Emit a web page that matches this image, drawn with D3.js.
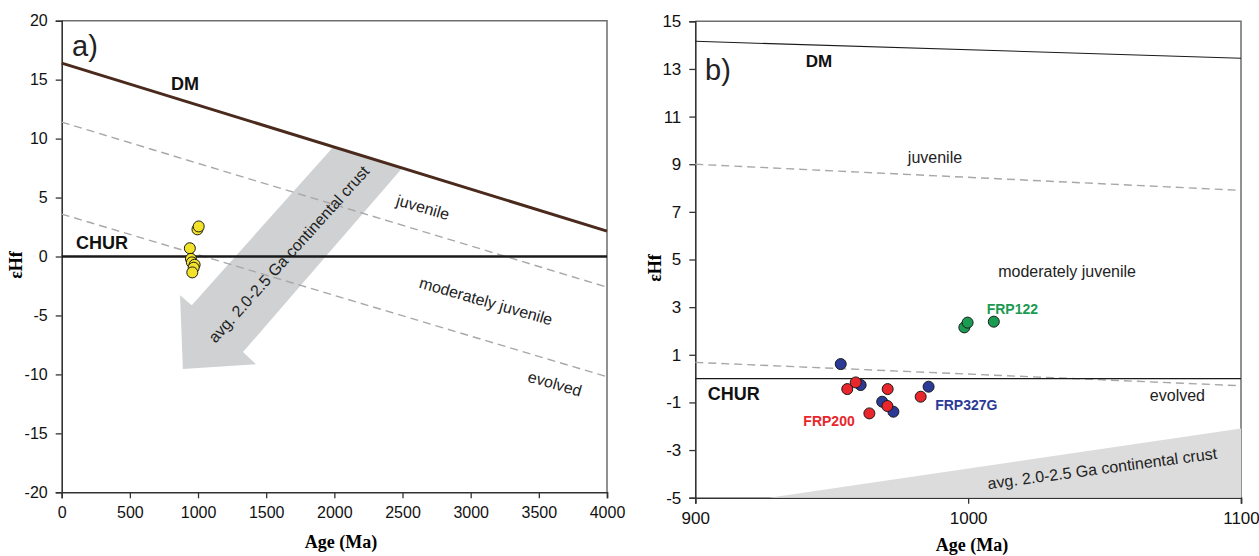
<!DOCTYPE html>
<html>
<head>
<meta charset="utf-8">
<script src="https://cdn.jsdelivr.net/npm/d3@7"></script>
<style>
  body { margin: 0; background: #fff; }
  text { font-family: Arial, "Liberation Sans", sans-serif; }
  .serif { font-family: "Times New Roman", "Liberation Serif", serif; font-weight: bold; }
</style>
</head>
<body>
<div id="chart"></div>
<script>
// ---- panel a data ----
var ageTicksA = [0, 500, 1000, 1500, 2000, 2500, 3000, 3500, 4000];
var hfTicksA = [-20, -15, -10, -5, 0, 5, 10, 15, 20];
var dmA = [[0, 16.4], [4000, 2.15]];
var churA = [[0, 0], [4000, 0]];
var juvenileA = [[0, 11.4], [4000, -2.6]];
var evolvedA = [[0, 3.6], [4000, -10.2]];
var crustArrowA = [[1990, 9.26], [2503, 7.57], [1330, -8.11], [1425, -9.13],
                   [889, -9.55], [868, -3.28], [954, -4.13]];
var samplesA = [[996, 2.3], [1005, 2.55], [940, 0.7], [948, -0.2], [955, -0.5],
                [975, -0.7], [968, -0.95], [958, -1.35]];

// ---- panel b data ----
var ageTicksB = [900, 1000, 1100];
var hfTicksB = [-5, -3, -1, 1, 3, 5, 7, 9, 11, 13, 15];
var dmB = [[900, 14.16], [1100, 13.45]];
var churB = [[900, 0], [1100, 0]];
var juvenileB = [[900, 9.0], [1100, 7.9]];
var evolvedB = [[900, 0.68], [1100, -0.3]];
var crustB = [[927, -5], [1100, -2.1], [1100, -5]];
var frp327g = [[953.3, 0.61], [960.6, -0.27], [968.5, -0.97], [972.6, -1.39], [985.5, -0.34]];
var frp200 = [[955.7, -0.44], [958.8, -0.16], [970.5, -0.44], [970.4, -1.15], [963.8, -1.46], [982.6, -0.76]];
var frp122 = [[998.6, 2.15], [999.8, 2.35], [1009.4, 2.39]];

var svg = d3.select("#chart").append("svg")
    .attr("width", 1259)
    .attr("height", 556);

function panel(left, top, right, bottom, xdom, ydom, xticks, yticks, fs) {
  var x = d3.scaleLinear().domain(xdom).range([left, right]);
  var y = d3.scaleLinear().domain(ydom).range([bottom, top]);
  var g = svg.append("g");

  // frame top / right
  g.append("path")
    .attr("d", "M" + left + "," + top + "H" + right + "V" + bottom)
    .attr("fill", "none").attr("stroke", "#6e6e6e").attr("stroke-width", 1.5);

  var ax = g.append("g")
    .attr("transform", "translate(0," + bottom + ")")
    .call(d3.axisBottom(x).tickValues(xticks).tickSize(6).tickPadding(8)
          .tickFormat(function(d) { return String(d); }));
  var ay = g.append("g")
    .attr("transform", "translate(" + left + ",0)")
    .call(d3.axisLeft(y).tickValues(yticks).tickSize(6).tickPadding(8)
          .tickFormat(function(d) { return String(d); }));
  [ax, ay].forEach(function(a) {
    a.selectAll("text").style("font-size", fs + "px").attr("fill", "#111")
      .style("font-family", "Arial, 'Liberation Sans', sans-serif");
    a.selectAll("line").attr("stroke", "#333").attr("stroke-width", 1.3);
    a.select(".domain").attr("stroke", "#333").attr("stroke-width", 1.6);
  });
  return {g: g, x: x, y: y};
}

function line(p, data, color, width, dash) {
  var gen = d3.line().x(function(d) { return p.x(d[0]); }).y(function(d) { return p.y(d[1]); });
  p.g.append("path").datum(data)
    .attr("d", gen)
    .attr("fill", "none")
    .attr("stroke", color)
    .attr("stroke-width", width)
    .attr("stroke-dasharray", dash || null);
}

function label(p, age, hf, txt, opts) {
  var t = p.g.append("text")
    .attr("transform", "translate(" + p.x(age) + "," + p.y(hf) + ") rotate(" + (opts.rot || 0) + ")")
    .attr("text-anchor", opts.anchor || "start")
    .style("font-size", opts.size + "px")
    .style("font-weight", opts.bold ? "bold" : "normal")
    .attr("fill", opts.color || "#222")
    .text(txt);
  if (opts.dy) t.attr("dy", opts.dy);
  return t;
}

function dots(p, data, fill) {
  p.g.selectAll(null).data(data).enter().append("circle")
    .attr("cx", function(d) { return p.x(d[0]); })
    .attr("cy", function(d) { return p.y(d[1]); })
    .attr("r", 5.5)
    .attr("fill", fill)
    .attr("stroke", "#1a1a1a")
    .attr("stroke-width", 1);
}

// ================= panel a =================
var a = panel(61.7, 20.7, 607, 492.3, [0, 4000], [-20, 20], ageTicksA, hfTicksA, 16);

a.g.append("path").datum(crustArrowA)
  .attr("d", d3.line().x(function(d) { return a.x(d[0]); }).y(function(d) { return a.y(d[1]); }).curve(d3.curveLinearClosed))
  .attr("fill", "#cfd1d3");

line(a, juvenileA, "#a8a8a8", 1.4, "8,5");
line(a, evolvedA, "#a8a8a8", 1.4, "8,5");
line(a, churA, "#1a1a1a", 2.6);
line(a, dmA, "#4a2a1c", 3);
dots(a, samplesA, "#f2e229");

label(a, 76, 17, "a)", {size: 29, color: "#222"});
label(a, 802, 14.1, "DM", {size: 18, bold: true, color: "#111"});
label(a, 105, 0.62, "CHUR", {size: 18, bold: true, color: "#111"});
label(a, 2650, 4.18, "juvenile", {size: 16, rot: 16, anchor: "middle", dy: "0.35em"});
label(a, 3112, -3.78, "moderately juvenile", {size: 16, rot: 16, anchor: "middle", dy: "0.35em"});
label(a, 3618, -10.78, "evolved", {size: 16, rot: 16, anchor: "middle", dy: "0.35em"});
label(a, 1665, 0.2, "avg. 2.0-2.5 Ga continental crust", {size: 16, rot: -48, anchor: "middle", dy: "0.35em"});

svg.append("text").attr("class", "serif")
  .attr("x", 341).attr("y", 548).attr("text-anchor", "middle")
  .style("font-size", "18px").text("Age (Ma)");
svg.append("text").attr("class", "serif")
  .attr("transform", "translate(21.5,265) rotate(-90)").attr("text-anchor", "middle")
  .style("font-size", "18px").text("εHf");

// ================= panel b =================
var b = panel(695.3, 21.3, 1241, 497.7, [900, 1100], [-5, 15], ageTicksB, hfTicksB, 17);

b.g.append("path").datum(crustB)
  .attr("d", d3.line().x(function(d) { return b.x(d[0]); }).y(function(d) { return b.y(d[1]); }).curve(d3.curveLinearClosed))
  .attr("fill", "#dcdcdc");

line(b, juvenileB, "#a8a8a8", 1.4, "8,5");
line(b, evolvedB, "#a8a8a8", 1.4, "8,5");
line(b, churB, "#1a1a1a", 1.3);
line(b, dmB, "#1a1a1a", 1.1);

dots(b, frp122, "#1b9a52");
dots(b, frp327g, "#2b3a97");
dots(b, frp200, "#e8262b");

label(b, 903.6, 12.54, "b)", {size: 29, color: "#222"});
label(b, 940.5, 13.09, "DM", {size: 17, bold: true, color: "#111"});
label(b, 904.6, -0.9, "CHUR", {size: 18, bold: true, color: "#111"});
label(b, 977.9, 9.05, "juvenile", {size: 16});
label(b, 1011, 4.27, "moderately juvenile", {size: 16});
label(b, 1066.6, -0.94, "evolved", {size: 16});
label(b, 1049.4, -4.0, "avg. 2.0-2.5 Ga continental crust", {size: 16, rot: -7.6, anchor: "middle"});
label(b, 1006.8, 2.70, "FRP122", {size: 14, bold: true, color: "#1b9a52"});
label(b, 987.9, -1.32, "FRP327G", {size: 14, bold: true, color: "#2b3a97"});
label(b, 939.6, -1.99, "FRP200", {size: 14, bold: true, color: "#e8262b"});

svg.append("text").attr("class", "serif")
  .attr("x", 972).attr("y", 551).attr("text-anchor", "middle")
  .style("font-size", "18px").text("Age (Ma)");
svg.append("text").attr("class", "serif")
  .attr("transform", "translate(661,268) rotate(-90)").attr("text-anchor", "middle")
  .style("font-size", "18px").text("εHf");
</script>
</body>
</html>
